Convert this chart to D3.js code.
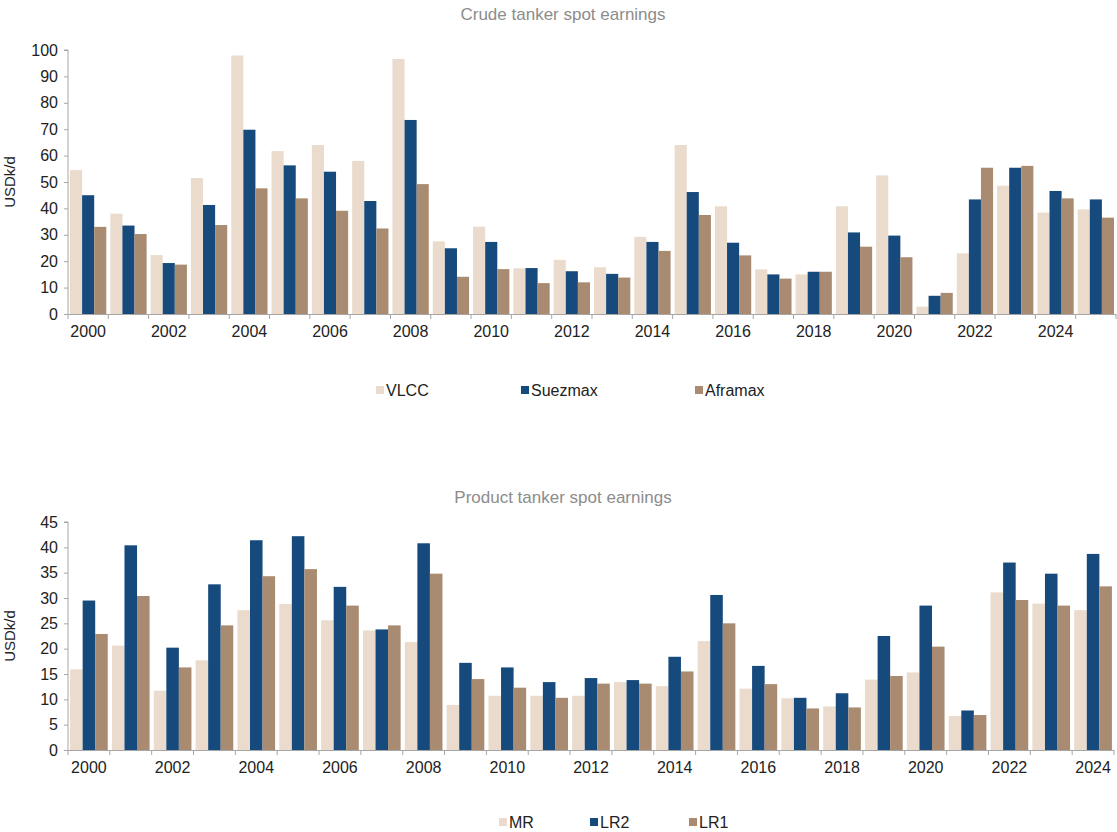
<!DOCTYPE html>
<html>
<head>
<meta charset="utf-8">
<script src="https://cdn.jsdelivr.net/npm/d3@7"></script>
<style>
  html, body { margin: 0; padding: 0; background: #fff; }
  svg { display: block; font-family: "Liberation Sans", Arial, sans-serif; }
</style>
</head>
<body>
<svg id="chart" width="1117" height="832"></svg>
<script>
// Crude tanker annual spot earnings, USD thousand per day
const crudeYears = d3.range(2000, 2026).map(String);
const vlcc     = [54.5, 38, 22.3, 51.5, 97.9, 61.7, 64, 58, 96.6, 27.5, 33.1, 17.3, 20.5, 17.7, 29.2, 64, 40.8, 16.9, 15, 40.8, 52.5, 2.8, 23, 48.6, 38.4, 39.6];
const suezmax  = [45, 33.5, 19.3, 41.3, 69.8, 56.3, 53.9, 42.8, 73.5, 24.9, 27.3, 17.4, 16.2, 15.2, 27.3, 46.2, 27, 15, 16, 30.9, 29.7, 6.9, 43.4, 55.4, 46.6, 43.4];
const aframax  = [33, 30.3, 18.7, 33.7, 47.6, 43.8, 39.1, 32.4, 49.2, 14.1, 17, 11.7, 12, 13.8, 23.9, 37.5, 22.2, 13.4, 16, 25.5, 21.5, 8, 55.4, 56.1, 43.8, 36.5];
const crudeTicks = d3.range(0, 101, 10);

// Product tanker annual spot earnings, USD thousand per day
const productYears = d3.range(2000, 2025).map(String);
const mr  = [15.9, 20.6, 11.7, 17.7, 27.6, 28.8, 25.6, 23.6, 21.3, 8.9, 10.7, 10.7, 10.7, 13.4, 12.6, 21.5, 12.1, 10.2, 8.6, 13.9, 15.3, 6.7, 31.1, 28.9, 27.6];
const lr2 = [29.5, 40.4, 20.2, 32.7, 41.4, 42.2, 32.2, 23.8, 40.8, 17.2, 16.3, 13.4, 14.2, 13.8, 18.4, 30.6, 16.6, 10.3, 11.2, 22.5, 28.5, 7.8, 37.0, 34.8, 38.7];
const lr1 = [22.9, 30.4, 16.3, 24.6, 34.3, 35.7, 28.5, 24.6, 34.8, 14.0, 12.3, 10.3, 13.1, 13.1, 15.5, 25.0, 13.0, 8.2, 8.4, 14.6, 20.4, 6.9, 29.6, 28.5, 32.3];
const productTicks = d3.range(0, 46, 5);

const colors = ["#eadbcc", "#174a7c", "#a88b70"];
const svg = d3.select("#chart");

function drawPanel(cfg) {
  const { title, titleY, years, series, names, yMax, ticks, left, right, top, bottom, legendY, legendX } = cfg;
  const g = svg.append("g");

  const x = d3.scaleBand().domain(years).range([left, right]).paddingInner(0).paddingOuter(0);
  const xs = d3.scaleBand().domain(d3.range(series.length)).range([x.bandwidth() * 0.05, x.bandwidth() * 0.95]).padding(0);
  const y = d3.scaleLinear().domain([0, yMax]).range([bottom, top]);

  g.append("text")
    .attr("x", 563).attr("y", titleY)
    .attr("text-anchor", "middle")
    .attr("font-size", 17).attr("fill", "#8c8c8c")
    .text(title);

  // bars
  years.forEach((yr, i) => {
    series.forEach((s, k) => {
      g.append("rect")
        .attr("x", x(yr) + xs(k))
        .attr("y", y(s[i]))
        .attr("width", xs.bandwidth())
        .attr("height", bottom - y(s[i]))
        .attr("fill", colors[k]);
    });
  });

  // y axis
  const yAxis = d3.axisLeft(y).tickValues(ticks).tickSize(4).tickPadding(6);
  const ya = g.append("g").attr("transform", `translate(${left},0)`).call(yAxis);
  ya.select(".domain").attr("stroke", "#a6a6a6").attr("d", `M-4,${top}H0V${bottom}`);
  ya.selectAll(".tick line").attr("stroke", "#a6a6a6");
  ya.selectAll(".tick text").attr("font-size", 16).attr("fill", "#222").attr("font-family", "Liberation Sans, Arial, sans-serif");

  // x axis with ticks on category boundaries and labels every other year
  const xa = g.append("g");
  xa.append("line").attr("x1", left).attr("x2", right).attr("y1", bottom + 0.5).attr("y2", bottom + 0.5).attr("stroke", "#a6a6a6");
  years.concat(["end"]).forEach((yr, i) => {
    const px = i < years.length ? x(yr) : right;
    xa.append("line").attr("x1", px).attr("x2", px).attr("y1", bottom).attr("y2", bottom + 5).attr("stroke", "#a6a6a6");
  });
  years.filter((d, i) => i % 2 === 0).forEach(yr => {
    xa.append("text")
      .attr("x", x(yr) + x.bandwidth() / 2).attr("y", bottom + 23)
      .attr("text-anchor", "middle").attr("font-size", 16).attr("fill", "#222")
      .text(yr);
  });

  g.append("text")
    .attr("transform", `translate(15,${(top + bottom) / 2}) rotate(-90)`)
    .attr("text-anchor", "middle").attr("font-size", 15).attr("fill", "#222")
    .text("USDk/d");

  // legend
  names.forEach((n, k) => {
    const lg = g.append("g").attr("transform", `translate(${legendX[k]},${legendY})`);
    lg.append("rect").attr("x", 0).attr("y", -4).attr("width", 8).attr("height", 8).attr("fill", colors[k]);
    lg.append("text").attr("x", 10).attr("y", 6).attr("font-size", 16).attr("fill", "#222").text(n);
  });
}

drawPanel({
  title: "Crude tanker spot earnings", titleY: 20,
  years: crudeYears, series: [vlcc, suezmax, aframax], names: ["VLCC", "Suezmax", "Aframax"],
  yMax: 100, ticks: crudeTicks, left: 68, right: 1116, top: 50, bottom: 314,
  legendY: 390, legendX: [376, 521, 695]
});

drawPanel({
  title: "Product tanker spot earnings", titleY: 503,
  years: productYears, series: [mr, lr2, lr1], names: ["MR", "LR2", "LR1"],
  yMax: 45, ticks: productTicks, left: 68, right: 1114, top: 522, bottom: 750,
  legendY: 822, legendX: [499, 590, 689]
});
</script>
</body>
</html>
